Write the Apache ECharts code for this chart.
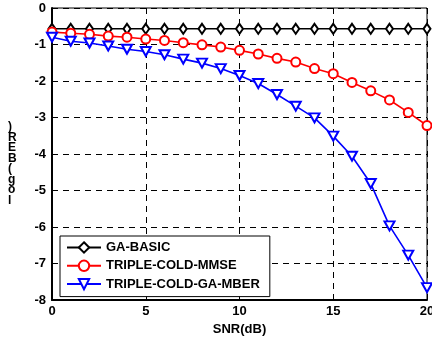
<!DOCTYPE html>
<html><head><meta charset="utf-8">
<script src="https://cdn.jsdelivr.net/npm/echarts@6/dist/echarts.min.js"></script>
<style>html,body{margin:0;padding:0;background:#fff}#c{width:432px;height:341px}</style>
</head><body><div id="c"></div>
<script>
const snr = [0,1,2,3,4,5,6,7,8,9,10,11,12,13,14,15,16,17,18,19,20];
const gaBasic = [-0.57,-0.57,-0.57,-0.57,-0.57,-0.57,-0.57,-0.57,-0.57,-0.57,-0.57,-0.57,-0.57,-0.57,-0.57,-0.57,-0.57,-0.57,-0.57,-0.57,-0.57];
const tripleMmse = [-0.66,-0.69,-0.72,-0.77,-0.80,-0.85,-0.89,-0.95,-1.01,-1.07,-1.16,-1.26,-1.38,-1.48,-1.66,-1.80,-2.04,-2.27,-2.52,-2.86,-3.22];
const tripleMber = [-0.80,-0.91,-0.96,-1.04,-1.13,-1.19,-1.28,-1.40,-1.51,-1.66,-1.85,-2.07,-2.37,-2.69,-3.01,-3.51,-4.06,-4.81,-5.97,-6.77,-7.66];
const names = ['GA-BASIC','TRIPLE-COLD-MMSE','TRIPLE-COLD-GA-MBER'];
const yAxisName = ')\nR\nE\nB\n(\ng\no\nl';

const chart = echarts.init(document.getElementById('c'), null, {renderer:'canvas'});
const font = 'Arial, "Liberation Sans", sans-serif';
const pair = arr => arr.map((v,i)=>[snr[i], v]);
chart.setOption({
  animation:false,
  backgroundColor:'#fff',
  grid:{left:52,right:5,top:8,bottom:41,show:true,borderColor:'#000',borderWidth:1,outerBoundsMode:'none',containLabel:false},
  xAxis:{type:'value',min:0,max:20,interval:5,
    name:'SNR(dB)',nameLocation:'middle',nameGap:22,
    nameTextStyle:{color:'#000',fontWeight:'bold',fontSize:13,fontFamily:font},
    axisLine:{show:true,onZero:false,lineStyle:{color:'#000',width:2}},
    axisTick:{show:true,inside:true,length:4,lineStyle:{color:'#000'}},
    axisLabel:{color:'#000',fontWeight:'bold',fontSize:13,fontFamily:font,margin:5,hideOverlap:false},
    splitLine:{show:true,lineStyle:{color:'#000',type:[6,5],width:1}}},
  yAxis:{type:'value',min:-8,max:0,interval:1,
    axisLine:{show:true,onZero:false,lineStyle:{color:'#000',width:2}},
    axisTick:{show:true,inside:true,length:4,lineStyle:{color:'#000'}},
    axisLabel:{color:'#000',fontWeight:'bold',fontSize:13,fontFamily:font,margin:6},
    splitLine:{show:true,lineStyle:{color:'#000',type:[6,5],width:1}}},
  graphic:[{type:'text',left:8,top:121,style:{text:yAxisName,fill:'#000',font:'bold 12px '+font,lineHeight:10.5,align:'center'}}],
  legend:{orient:'vertical',left:60,top:236,width:212,
    backgroundColor:'#fff',borderColor:'#000',borderWidth:1,
    padding:[5,10,6,6],itemGap:5.3,itemWidth:34,itemHeight:13,
    textStyle:{color:'#000',fontWeight:'bold',fontSize:13,fontFamily:font},
    data:names},
  series:[
    {name:names[0],type:'line',data:pair(gaBasic),symbol:'emptyDiamond',symbolSize:[7,10],
      color:'#000',lineStyle:{color:'#000',width:1.6},itemStyle:{color:'#000',borderWidth:1.5}},
    {name:names[1],type:'line',data:pair(tripleMmse),symbol:'emptyCircle',symbolSize:9,
      color:'#ff0000',lineStyle:{color:'#ff0000',width:1.6},itemStyle:{color:'#ff0000',borderWidth:1.5}},
    {name:names[2],type:'line',data:pair(tripleMber),symbol:'emptyTriangle',symbolRotate:180,symbolSize:[10,9],
      color:'#0000ff',lineStyle:{color:'#0000ff',width:1.6},itemStyle:{color:'#0000ff',borderWidth:1.5}}
  ]
});
</script></body></html>
